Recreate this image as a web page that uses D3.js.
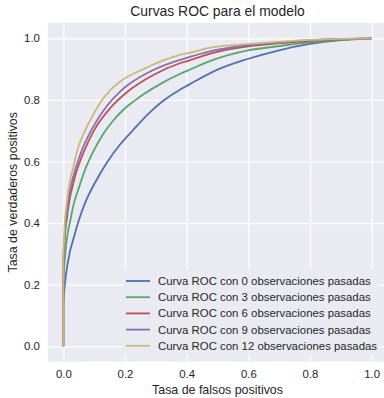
<!DOCTYPE html>
<html>
<head>
<meta charset="utf-8" />
<title>Curvas ROC</title>
<style>
    body { margin: 0; background: #fff; }
    text { font-family: "Liberation Sans", Arial, sans-serif; fill: #262626; }
</style>
</head>
<body>
<svg width="384" height="398"></svg>
<script src="https://cdn.jsdelivr.net/npm/d3@7"></script>
<script>

// datos: [fpr, tpr]
var roc0 = [[0,0],[0,0.13],[0.0055,0.205],[0.016,0.28],[0.038,0.367],[0.049,0.405],[0.07,0.464],
    [0.105,0.535],[0.141,0.596],[0.184,0.655],[0.227,0.703],[0.279,0.758],[0.324,0.797],[0.378,0.833],
    [0.405,0.848],[0.486,0.892],[0.595,0.932],[0.703,0.962],[0.795,0.981],[0.9,0.994],[1,1]];
var roc3 = [[0,0],[0,0.2],[0.0055,0.291],[0.016,0.378],[0.022,0.405],[0.032,0.455],[0.049,0.51],
    [0.07,0.572],[0.097,0.632],[0.13,0.69],[0.162,0.733],[0.195,0.768],[0.235,0.8],[0.26,0.818],
    [0.324,0.857],[0.378,0.884],[0.405,0.896],[0.486,0.93],[0.595,0.96],[0.703,0.975],[0.795,0.987],
    [0.9,0.996],[1,1]];
var roc6 = [[0,0],[0,0.25],[0.0055,0.367],[0.011,0.41],[0.016,0.45],[0.038,0.551],[0.067,0.633],
    [0.1,0.702],[0.151,0.772],[0.21,0.828],[0.292,0.881],[0.378,0.919],[0.405,0.927],[0.486,0.953],
    [0.595,0.973],[0.703,0.984],[0.8,0.992],[0.9,0.997],[1,1]];
var roc9 = [[0,0],[0,0.27],[0.0055,0.367],[0.015,0.464],[0.022,0.507],[0.027,0.53],[0.054,0.62],
    [0.097,0.713],[0.141,0.78],[0.184,0.827],[0.216,0.853],[0.292,0.897],[0.378,0.93],[0.405,0.938],
    [0.486,0.96],[0.595,0.977],[0.703,0.987],[0.8,0.994],[0.9,0.998],[1,1]];
var roc12 = [[0,0],[0,0.28],[0.003,0.367],[0.011,0.464],[0.022,0.54],[0.032,0.58],[0.043,0.628],
    [0.076,0.712],[0.097,0.752],[0.119,0.79],[0.151,0.83],[0.195,0.867],[0.26,0.9],[0.314,0.924],
    [0.378,0.946],[0.405,0.952],[0.486,0.971],[0.595,0.981],[0.703,0.989],[0.8,0.995],[0.9,0.998],[1,1]];

var nombres = ['Curva ROC con 0 observaciones pasadas', 'Curva ROC con 3 observaciones pasadas',
    'Curva ROC con 6 observaciones pasadas', 'Curva ROC con 9 observaciones pasadas',
    'Curva ROC con 12 observaciones pasadas'];
var colores = ['#4C72B0', '#55A868', '#C44E52', '#8172B2', '#CCB974'];
var ticks = [0, 0.2, 0.4, 0.6, 0.8, 1.0];

var series = [roc0, roc3, roc6, roc9, roc12];

var svg = d3.select('svg');
var x = d3.scaleLinear().domain([-0.05, 1.05]).range([47.9, 387.1]);
var y = d3.scaleLinear().domain([-0.05, 1.05]).range([361.7, 22.9]);

// fondo
svg.append('rect')
    .attr('x', x(-0.05)).attr('y', y(1.05))
    .attr('width', x(1.05) - x(-0.05)).attr('height', y(-0.05) - y(1.05))
    .attr('fill', '#EAEAF2');

// rejilla
svg.append('g')
    .attr('transform', 'translate(0,' + y(-0.05) + ')')
    .call(d3.axisBottom(x).tickValues(ticks).tickSize(-(y(-0.05) - y(1.05))).tickFormat(d3.format('.1f')).tickPadding(8))
    .call(function (g) {
        g.select('.domain').remove();
        g.selectAll('line').attr('stroke', '#fff').attr('stroke-width', 1.2);
        g.selectAll('text').attr('font-size', 11.4).attr('fill', '#262626')
            .attr('font-family', '"Liberation Sans", Arial, sans-serif');
    });

svg.append('g')
    .attr('transform', 'translate(' + x(-0.05) + ',0)')
    .call(d3.axisLeft(y).tickValues(ticks).tickSize(-(x(1.05) - x(-0.05))).tickFormat(d3.format('.1f')).tickPadding(8))
    .call(function (g) {
        g.select('.domain').remove();
        g.selectAll('line').attr('stroke', '#fff').attr('stroke-width', 1.2);
        g.selectAll('text').attr('font-size', 11.4).attr('fill', '#262626')
            .attr('font-family', '"Liberation Sans", Arial, sans-serif');
    });

// curvas
var linea = d3.line()
    .x(function (d) { return x(d[0]); })
    .y(function (d) { return y(d[1]); })
    .curve(d3.curveMonotoneX);

svg.append('g')
    .selectAll('path')
    .data(series)
    .enter()
    .append('path')
    .attr('d', linea)
    .attr('fill', 'none')
    .attr('stroke', function (d, i) { return colores[i]; })
    .attr('stroke-width', 1.8);

// leyenda
var ley = svg.append('g');
ley.append('rect')
    .attr('x', 123).attr('y', 269).attr('width', 256).attr('height', 86)
    .attr('fill', '#EAEAF2');
var filas = ley.selectAll('g.fila')
    .data(nombres)
    .enter()
    .append('g')
    .attr('class', 'fila')
    .attr('transform', function (d, i) { return 'translate(0,' + (281 + i * 16.2) + ')'; });
filas.append('line')
    .attr('x1', 126).attr('x2', 150)
    .attr('stroke', function (d, i) { return colores[i]; })
    .attr('stroke-width', 1.8);
filas.append('text')
    .attr('x', 158).attr('dy', '0.35em')
    .attr('font-size', 11.4)
    .text(function (d) { return d; });

// textos
svg.append('text')
    .attr('x', x(0.5)).attr('y', 16)
    .attr('text-anchor', 'middle')
    .attr('font-size', 13.9)
    .text('Curvas ROC para el modelo');

svg.append('text')
    .attr('x', x(0.5)).attr('y', 393.5)
    .attr('text-anchor', 'middle')
    .attr('font-size', 12.4)
    .text('Tasa de falsos positivos');

svg.append('text')
    .attr('transform', 'translate(16.7,' + y(0.5) + ') rotate(-90)')
    .attr('text-anchor', 'middle')
    .attr('font-size', 12.4)
    .text('Tasa de verdaderos positivos');

</script>
</body>
</html>
